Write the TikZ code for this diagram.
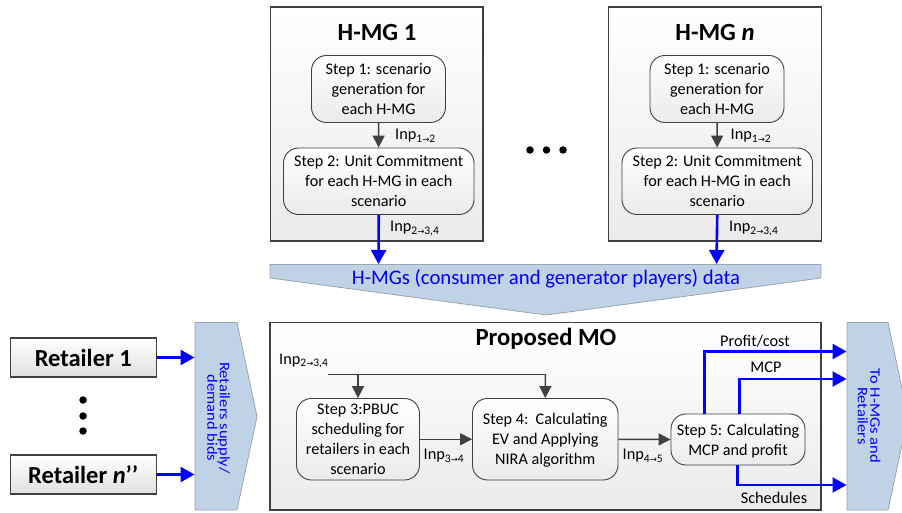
\documentclass[tikz,border=0pt]{standalone}
\usepackage{fontspec}
\setmainfont{Carlito}
\newfontfamily\arrowfont{DejaVu Sans}
\usetikzlibrary{arrows.meta}
\definecolor{edge}{HTML}{404040}
\definecolor{bandfill}{HTML}{C0D3E6}
\definecolor{bandedge}{HTML}{9AA5AE}
\definecolor{bluearrow}{HTML}{0000FF}
\newcommand{\inp}[1]{Inp\textsubscript{\fontsize{11.5}{11.5}\selectfont #1}}
\newcommand{\iarrow}{{\arrowfont\fontsize{8.5}{8.5}\selectfont →}}
\tikzset{
  x=1pt,y=-1pt,
  panel/.style={draw=edge,line width=1.2pt,top color=white,bottom color=black!8,inner sep=0pt,align=center},
  stepbox/.style={draw=edge,line width=0.9pt,rounded corners=15pt,top color=white,bottom color=black!8,inner sep=0pt,align=center,font=\fontsize{16.2}{20}\selectfont},
  retail/.style={draw=edge,line width=1.2pt,top color=white,bottom color=black!12,inner sep=0pt,align=center,font=\fontsize{24.5}{26}\selectfont\bfseries,minimum width=146pt,minimum height=39pt},
  title/.style={inner sep=0pt,font=\fontsize{24.7}{26}\selectfont\bfseries},
  lab/.style={inner sep=0pt,font=\fontsize{16.3}{18}\selectfont},
  band/.style={draw=bandedge,line width=0.8pt,fill=bandfill},
  bandtext/.style={inner sep=0pt,text=bluearrow,align=center},
  grayarrow/.style={draw=edge,line width=1.5pt,-{Triangle[length=12pt,width=12pt]}},
  grayline/.style={draw=edge,line width=1.2pt},
  bluearr/.style={draw=bluearrow,line width=2.6pt,-{Triangle[length=14pt,width=15pt]}},
  dotmark/.style={circle,fill=black,inner sep=0pt,minimum size=7.5pt},
}
\begin{document}
\begin{tikzpicture}
\useasboundingbox (0,0) rectangle (902,513);
\clip (0,0) rectangle (902,513);
% H-MG panels
\node[panel,minimum width=212.5pt,minimum height=234pt] (p1) at (376.75,124) {};
\node[panel,minimum width=212.5pt,minimum height=234pt] (pn) at (715,124) {};
\node[title] (t1) at (377,32) {H-MG 1};
\node[title] (tn) at (715,32) {H-MG \textit{n}};
\node[stepbox,minimum width=134pt,minimum height=67pt] (s11) at (378.5,89) {Step 1: scenario\\generation for\\each H-MG};
\node[stepbox,minimum width=190.5pt,minimum height=66.5pt] (s12) at (378.75,181.25) {Step 2: Unit Commitment\\for each H-MG in each\\scenario};
\node[stepbox,minimum width=134pt,minimum height=67pt] (sn1) at (717,89) {Step 1: scenario\\generation for\\each H-MG};
\node[stepbox,minimum width=190.5pt,minimum height=66.5pt] (sn2) at (717.25,181.25) {Step 2: Unit Commitment\\for each H-MG in each\\scenario};
\draw[grayarrow] (s11) -- (s12);
\draw[grayarrow] (sn1) -- (sn2);
\node[lab,anchor=west] (l1) at (395,136) {\inp{1\iarrow2}};
\node[lab,anchor=west] (l2) at (730.5,136) {\inp{1\iarrow2}};
\node[lab,anchor=west] (l3) at (390,228.5) {\inp{2\iarrow3,4}};
\node[lab,anchor=west] (l4) at (729,228.5) {\inp{2\iarrow3,4}};
% Ellipsis
\node[dotmark] (d1) at (530,150) {};
\node[dotmark] (d2) at (546.5,150) {};
\node[dotmark] (d3) at (563,150) {};
% Top band
\draw[band] (270,264.5) coordinate (b1) -- (821,264.5) coordinate (bn) -- (821,278) -- (546,315) -- (270,278) -- cycle;
\node[bandtext,font=\fontsize{20.7}{22}\selectfont] (bt) at (546,279) {H-MGs (consumer and generator players) data};
\coordinate (b1t) at (378.5,264);
\coordinate (bnt) at (716.5,264);
\draw[bluearr] (s12.south) -- (b1t);
\draw[bluearr] (sn2.south) -- (bnt);
% Retailers
\node[retail] (r1) at (83.25,357.5) {Retailer 1};
\node[retail] (rn) at (83.25,474.5) {Retailer \textit{n}’’};
\node[dotmark] (d4) at (83,400) {};
\node[dotmark] (d5) at (83,416) {};
\node[dotmark] (d6) at (83,431) {};
% Left band
\draw[band] (195,322.5) -- (237,322.5) -- (257,416.5) -- (237,510) -- (195,510) -- cycle;
\node[bandtext,rotate=-90,font=\fontsize{14.5}{15}\selectfont] (bl) at (216.5,418) {\scalebox{1.14}[1]{\begin{tabular}{@{}c@{}}Retailers supply/\\[-2.5pt]demand bids\end{tabular}}};
\coordinate (blr1) at (194.5,357.5);
\coordinate (blrn) at (194.5,474.5);
\draw[bluearr] (r1.east) -- (blr1);
\draw[bluearr] (rn.east) -- (blrn);
% MO panel
\node[panel,minimum width=551pt,minimum height=187.5pt] (mo) at (545.5,416.25) {};
\node[title] (tm) at (546,339) {Proposed MO};
\node[stepbox,minimum width=123pt,minimum height=81.5pt] (s3) at (358,439.25) {Step 3:PBUC\\scheduling for\\retailers in each\\scenario};
\node[stepbox,minimum width=145.5pt,minimum height=81.5pt] (s4) at (545.25,439.25) {\rule{0pt}{14pt}Step 4:\ \ Calculating\\EV and Applying\\NIRA algorithm};
\node[stepbox,minimum width=134pt,minimum height=51pt] (s5) at (738,439.5) {\rule{0pt}{14.5pt}Step 5: Calculating\\MCP and profit};
\node[lab,anchor=west] (l5) at (279,361) {\inp{2\iarrow3,4}};
\coordinate (c0) at (328,374.5);
\coordinate (c1) at (358,374.5);
\coordinate (c2) at (545.5,374.5);
\draw[grayline] (c0) -- (c2);
\draw[grayarrow] (c1) -- (s3.north);
\draw[grayarrow] (c2) -- (s4.north);
\draw[grayarrow] (s3.east) -- (s4.west);
\draw[grayarrow] (s4.east) -- (s5.west);
\node[lab,anchor=west] (l6) at (423.5,456) {\inp{3\iarrow4}};
\node[lab,anchor=west] (l7) at (622.5,456) {\inp{4\iarrow5}};
% Right band
\draw[band] (847,322.5) -- (888,322.5) -- (908,416.5) -- (888,510) -- (847,510) -- cycle;
\node[bandtext,rotate=-90,font=\fontsize{14.5}{15}\selectfont] (br) at (867,416) {\scalebox{1.14}[1]{\begin{tabular}{@{}c@{}}To H-MGs and\\[-2.5pt]Retailers\end{tabular}}};
\coordinate (e1) at (846.5,351.5);
\coordinate (e2) at (846.5,379);
\coordinate (e3) at (846.5,485);
\coordinate (o1) at (704.5,414);
\coordinate (o2) at (739.5,414);
\coordinate (o3) at (737.5,465);
\draw[bluearr] (o1) |- (e1);
\draw[bluearr] (o2) |- (e2);
\draw[bluearr] (o3) |- (e3);
\node[lab] (l8) at (755,341) {Profit/cost};
\node[lab] (l9) at (766,367) {MCP};
\node[lab] (l10) at (774,498) {Schedules};
\end{tikzpicture}
\end{document}
